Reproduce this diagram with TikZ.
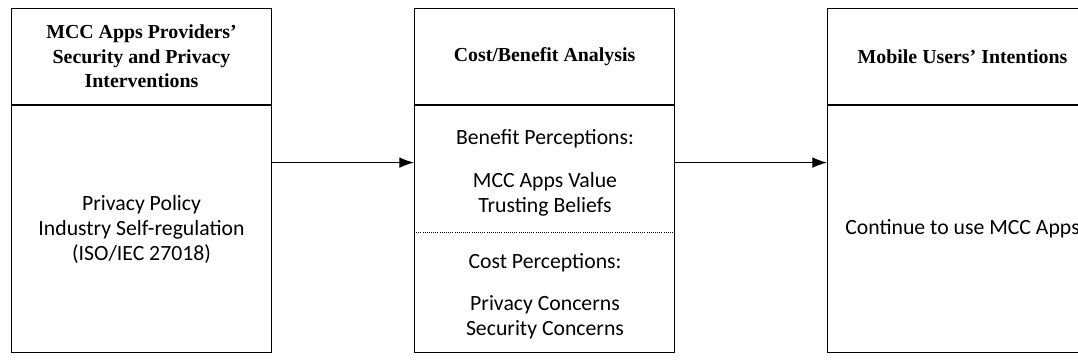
\documentclass[tikz,border=0pt]{standalone}
\usepackage{fontspec}
\setmainfont{Liberation Serif}
\newfontfamily\bodyfont{Carlito}
\usetikzlibrary{arrows.meta,positioning}

\begin{document}
\begin{tikzpicture}[x=0.75pt,y=-0.75pt,
	headbox/.style={draw,line width=0.8pt,minimum width=195pt,minimum height=72pt,
		inner sep=0pt,align=center,font=\fontsize{14.9}{18.4}\selectfont\bfseries},
	bodybox/.style={draw,line width=0.8pt,minimum width=195pt,minimum height=185.25pt,
		inner sep=0pt,align=center,font=\bodyfont\fontsize{16.3}{18.75}\selectfont},
	bodytext/.style={inner sep=0pt,align=center,font=\bodyfont\fontsize{16.3}{18.75}\selectfont},
	flow/.style={line width=0.8pt,-{Latex[length=11pt,width=8pt]}}]
\useasboundingbox (0,0) rectangle (1078,362);
\clip (0,0) rectangle (1078,362);

% interventions
\node[headbox,anchor=north west] (head1) at (11,8)
	{MCC Apps Providers’\\Security and Privacy\\Interventions};
\node[bodybox,below=0pt of head1] (body1)
	{Privacy Policy\\Industry Self-regulation\\(ISO/IEC 27018)};

% cost/benefit
\node[headbox,anchor=north west] (head2) at (414,8) {Cost/Benefit Analysis};
\node[bodybox,below=0pt of head2] (body2) {};
\draw[densely dotted,line width=0.6pt] ([yshift=-95.25pt]body2.north west)
	-- ([yshift=-95.25pt]body2.north east);
\node[bodytext] (benefit) at (545,173)
	{Benefit Perceptions:\\[13pt]MCC Apps Value\\Trusting Beliefs};
\node[bodytext] (cost) at (545,296)
	{Cost Perceptions:\\[13pt]Privacy Concerns\\Security Concerns};

% intentions
\node[headbox,anchor=north west,minimum width=202.5pt] (head3) at (827,8) {Mobile Users’ Intentions};
\node[bodybox,below=0pt of head3,minimum width=202.5pt] (body3) {Continue to use MCC Apps};

\draw[flow] ([yshift=49.9pt]body1.east) -- ([yshift=49.9pt]body2.west);
\draw[flow] ([yshift=49.9pt]body2.east) -- ([yshift=49.9pt]body3.west);
\end{tikzpicture}
\end{document}
